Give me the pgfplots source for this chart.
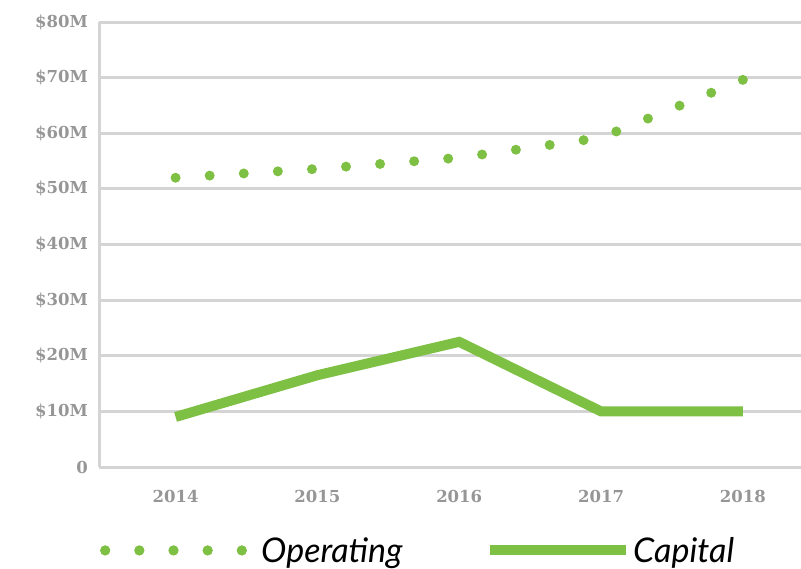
\documentclass[border=0pt]{standalone}
\usepackage{fontspec}
\usepackage{pgfplots}
\pgfplotsset{compat=1.18}
\newfontfamily\slab{DejaVu Serif}[BoldFont={DejaVu Serif Bold}]
\newfontfamily\legfont{Lato}
\definecolor{grn}{RGB}{125,192,67}
\definecolor{gridgray}{RGB}{212,212,212}
\definecolor{lblgray}{RGB}{150,150,150}
\pgfplotsset{
  dotleg/.style={legend image code/.code={\draw[##1] (0pt,0pt) -- (137pt,0pt); \path (0pt,0pt) -- (149pt,0pt);}},
  lineleg/.style={legend image code/.code={\draw[##1] (0pt,0pt) -- (136pt,0pt);}},
}
\begin{document}
\begin{tikzpicture}
\path[use as bounding box] (0,0) rectangle (801pt,568pt);
\begin{axis}[
  at={(99pt,101pt)}, anchor=south west,
  scale only axis, width=702pt, height=445pt,
  xmin=2013.46, xmax=2018.41, ymin=0, ymax=80,
  axis lines*=left,
  axis line style={draw=gridgray, line width=3pt},
  xtick={2014,2015,2016,2017,2018},
  xticklabels={2014,2015,2016,2017,2018},
  ytick={0,10,20,30,40,50,60,70,80},
  yticklabels={0,\$10M,\$20M,\$30M,\$40M,\$50M,\$60M,\$70M,\$80M},
  major tick length=0pt,
  ymajorgrids, grid style={draw=gridgray, line width=3pt},
  tick label style={font=\slab\bfseries\fontsize{16.5}{16.5}\selectfont, text=lblgray, inner sep=0pt},
  yticklabel style={xshift=-11pt},
  xticklabel style={yshift=-23pt},
  legend columns=2,
  legend cell align=left,
  legend style={at={(0.0014,-0.1875)}, anchor=west, draw=none, fill=none, inner sep=0pt,
    column sep=2pt, font=\legfont\itshape\fontsize{34}{34}\selectfont,
    nodes={inner xsep=0pt, text width=222pt, align=left}},
]
\addplot[grn, line width=10pt, line cap=round, dash pattern=on 0pt off 34.16pt, dotleg]
  coordinates {(2014,52) (2015,53.6) (2016,55.6) (2017,59.2) (2018,69.6)};
\addlegendentry{Operating}
\addplot[grn, line width=10pt, lineleg]
  coordinates {(2014,9) (2015,16.5) (2016,22.5) (2017,10) (2018,10)};
\addlegendentry{Capital}
\end{axis}
\end{tikzpicture}
\end{document}
